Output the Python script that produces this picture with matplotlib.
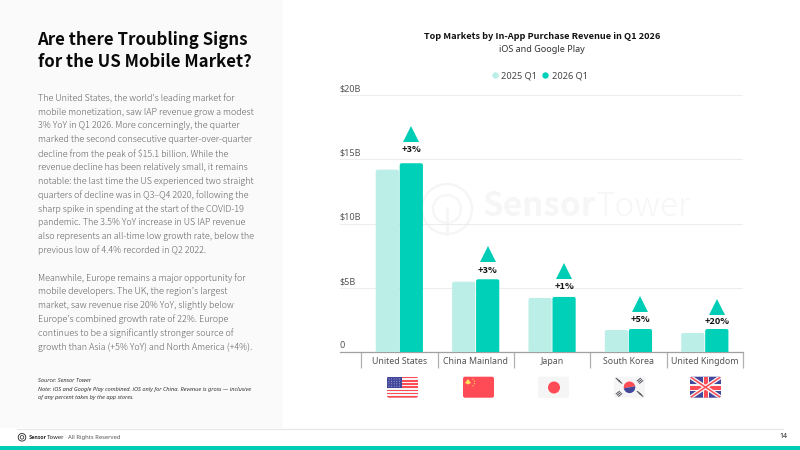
import matplotlib
matplotlib.use("Agg")
import matplotlib.pyplot as plt
from matplotlib.lines import Line2D
from matplotlib.patches import Circle, FancyBboxPatch, Polygon, Rectangle, Wedge
from matplotlib.transforms import ScaledTranslation, offset_copy

# Revenue in $B per market
markets = ["United States", "China Mainland", "Japan", "South Korea", "United Kingdom"]
rev_2025 = [14.2, 5.46, 4.19, 1.69, 1.46]
rev_2026 = [14.7, 5.65, 4.27, 1.77, 1.77]
yoy_labels = ["+3%", "+3%", "+1%", "+5%", "+20%"]
y_ticks = [0, 5, 10, 15, 20]
y_tick_labels = ["0", "$5B", "$10B", "$15B", "$20B"]

title = ["Are there Troubling Signs", "for the US Mobile Market?"]
para_1 = [
    "The United States, the world\u2019s leading market for",
    "mobile monetization, saw IAP revenue grow a modest",
    "3% YoY in Q1 2026. More concerningly, the quarter",
    "marked the second consecutive quarter-over-quarter",
    "decline from the peak of $15.1 billion. While the",
    "revenue decline has been relatively small, it remains",
    "notable: the last time the US experienced two straight",
    "quarters of decline was in Q3\u2013Q4 2020, following the",
    "sharp spike in spending at the start of the COVID-19",
    "pandemic. The 3.5% YoY increase in US IAP revenue",
    "also represents an all-time low growth rate, below the",
    "previous low of 4.4% recorded in Q2 2022.",
]
para_2 = [
    "Meanwhile, Europe remains a major opportunity for",
    "mobile developers. The UK, the region\u2019s largest",
    "market, saw revenue rise 20% YoY, slightly below",
    "Europe\u2019s combined growth rate of 22%. Europe",
    "continues to be a significantly stronger source of",
    "growth than Asia (+5% YoY) and North America (+4%).",
]
notes = [
    "Source: Sensor Tower",
    "Note: iOS and Google Play combined. iOS only for China. Revenue is gross \u2014 inclusive",
    "of any percent takes by the app stores.",
]

TEAL = "#00D0B8"
PALE = "#BBEEE6"
RED = "#FF4B55"
BLUE = "#41479B"
BODY = "#606060"
FONT = "Noto Sans"
HEAVY = "Noto Sans CJK JP"

fig = plt.figure(figsize=(8, 4.5), dpi=100)

# Page furniture is laid out in pixels on a full-size backdrop
page = fig.add_axes([0, 0, 1, 1], zorder=0)
page.set_xlim(0, 800)
page.set_ylim(450, 0)
page.axis("off")

page.add_patch(Rectangle((0, 0), 283, 428, fc="#FAFAFA", ec="none"))
page.add_patch(Rectangle((0, 446), 800, 4, fc="#00CDB6", ec="none"))
page.plot([17, 783], [428.5, 428.5], color="#E6E6E6", lw=0.8)

page.text(37.5, 40, title[0], family=HEAVY, weight="bold", fontsize=12.1, color="#0A0A0A", va="center")
page.text(37.5, 62, title[1], family=HEAVY, weight="bold", fontsize=12.1, color="#0A0A0A", va="center")

for i, line in enumerate(para_1):
    page.text(37.7, 98.3 + i * 13.8, line, family=HEAVY, weight="light", fontsize=6.45, color=BODY, va="center")
for i, line in enumerate(para_2):
    page.text(37.7, 277.7 + i * 13.85, line, family=HEAVY, weight="light", fontsize=6.45, color=BODY, va="center")
for y, line in zip([381, 389.3, 397], notes):
    page.text(37.7, y, line, family=FONT, style="italic", fontsize=4.05, color="#333333", va="center")

# footer
page.add_patch(Circle((22, 437.3), 3.8, fc="none", ec="#222222", lw=0.6))
page.add_patch(Circle((22, 437.3), 1.8, fc="none", ec="#222222", lw=0.5))
page.text(28.5, 437.3, "Sensor", family=HEAVY, weight="bold", fontsize=3.8, color="#222222", va="center")
page.text(46.6, 437.3, "Tower", family=HEAVY, fontsize=4.3, color="#222222", va="center")
page.text(67.5, 437.3, "All Rights Reserved", family=FONT, fontsize=4.2, color="#555555", va="center")
page.text(787, 437, "14", family=FONT, weight="bold", fontsize=5, color="#222222", va="center", ha="right")

# watermark behind the chart
page.add_patch(Circle((447, 209), 25, fc="none", ec="#F5F5F5", lw=1.6))
page.add_patch(Circle((447, 209), 14, fc="none", ec="#F6F6F6", lw=1.6))
page.plot([447, 447], [208, 235], color="#F5F5F5", lw=1.8)
page.text(483, 207, "Sensor", family=HEAVY, weight="bold", fontsize=24, color="#F6F6F6", va="center")
page.text(596, 207, "Tower", family=HEAVY, weight="light", fontsize=24, color="#F6F6F6", va="center")

page.text(541.7, 36.3, "Top Markets by In-App Purchase Revenue in Q1 2026", family=HEAVY, weight="bold",
          fontsize=6.62, color="#111111", ha="center", va="center")
page.text(541.7, 49.3, "iOS and Google Play", family=FONT, fontsize=6.5, color="#333333", ha="center", va="center")


def flag_base(x0, color):
    base = FancyBboxPatch((x0 + 1.5, 378.2), 28, 18, boxstyle="round,pad=1.5,rounding_size=2", fc=color, ec="none")
    page.add_patch(base)
    return base


def clipped(artist, base):
    page.add_artist(artist)
    artist.set_clip_path(base)


# United States
base = flag_base(387, "#F5F5F5")
for i in range(0, 13, 2):
    clipped(Rectangle((387, 376.7 + i * 21 / 13), 31, 21 / 13, fc=RED, ec="none"), base)
clipped(Rectangle((387, 376.7), 14.5, 11.3, fc=BLUE, ec="none"), base)
for row in range(4):
    for col in range(5):
        page.add_patch(Circle((389 + col * 2.6, 379 + row * 2.4), 0.45, fc="#C8CBEA", ec="none"))

# China
base = flag_base(463, RED)
page.add_patch(Polygon([(465, 383), (468, 379), (471, 383), (468, 384.5)], fc="#FFE15A", ec="none"))
for dx, dy in [(10, 2.5), (11.5, 4.5), (11.5, 7), (10, 9)]:
    page.add_patch(Circle((463 + dx, 376.7 + dy), 0.6, fc="#FFE15A", ec="none"))

# Japan
base = flag_base(538, "#F5F5F5")
page.add_patch(Circle((554, 387.5), 6, fc=RED, ec="none"))

# South Korea
base = flag_base(614, "#F5F5F5")
page.add_patch(Wedge((629.5, 387.3), 5.8, 170, 350, fc=RED, ec="none"))
page.add_patch(Wedge((629.5, 387.3), 5.8, -10, 170, fc=BLUE, ec="none"))
for sx, sy in [(-1, -1), (1, -1), (-1, 1), (1, 1)]:
    cx, cy = 629.5 + sx * 10.5, 387.3 + sy * 6.5
    for k in (-1.2, 0, 1.2):
        page.plot([cx - 2 * sx + k, cx + 2 * sx + k], [cy + 1.6 * sy * -1 + k, cy - 1.6 * sy * -1 + k],
                  color="#555560", lw=0.7, solid_capstyle="butt")

# United Kingdom
base = flag_base(690, BLUE)
xa, xb, ya, yb = 690, 721, 376.7, 397.7
for color, lw in [("#F5F5F5", 3.0), (RED, 1.1)]:
    for pts in [([xa, xb], [ya, yb]), ([xa, xb], [yb, ya])]:
        line = Line2D(pts[0], pts[1], color=color, lw=lw, solid_capstyle="butt")
        clipped(line, base)
clipped(Rectangle((xa, 384), 31, 7, fc="#F5F5F5", ec="none"), base)
clipped(Rectangle((702.5, ya), 6, 21, fc="#F5F5F5", ec="none"), base)
clipped(Rectangle((xa, 385.5), 31, 4, fc=RED, ec="none"), base)
clipped(Rectangle((703.5, ya), 4, 21, fc=RED, ec="none"), base)

# The chart itself: x runs from 340 to 743 px, y from 351.7 up to 95.3 px
ax = fig.add_axes([340 / 800, 1 - 351.7 / 450, 403 / 800, 256.4 / 450], zorder=2)
ax.patch.set_alpha(0)
ax.set_xlim(-0.777, 4.5)
ax.set_ylim(0, 20)
for side in ["top", "right", "left"]:
    ax.spines[side].set_visible(False)
ax.spines["bottom"].set_color("#A0A0A0")
ax.spines["bottom"].set_linewidth(0.9)

ax.set_yticks(y_ticks)
ax.set_yticklabels(y_tick_labels)
ax.tick_params(axis="y", length=0, pad=0, labelsize=6.5, labelcolor="#555555")
ax.yaxis.grid(True, color="#EDEDED", lw=0.8)
ax.set_axisbelow(True)
label_shift = ScaledTranslation(0, 1.1 / 72, fig.dpi_scale_trans)
for lab in ax.get_yticklabels():
    lab.set_ha("left")
    lab.set_va("bottom")
    lab.set_family(FONT)
    lab.set_transform(lab.get_transform() + label_shift)

ax.set_xticks(range(len(markets)))
ax.set_xticklabels(markets, family=FONT, fontsize=6.35, color="#555555")
ax.set_xticks([i - 0.5 for i in range(len(markets) + 1)], minor=True)
ax.tick_params(axis="x", which="major", length=0, pad=3.6)
ax.tick_params(axis="x", which="minor", length=11.2, width=0.9, color="#B0B0B0")

bar_w = 0.304
bar_off = 0.157
# rounding radius of 2 px, with the aspect correcting for the differing axis scales
radius = 2 / 76.3
aspect = (1 / 12.82) / (1 / 76.3)


def rounded_bar(x, value, color):
    patch = FancyBboxPatch((x - bar_w / 2 + radius, -1), bar_w - 2 * radius, value + 1 - radius * aspect,
                           boxstyle=f"round,pad={radius},rounding_size={radius}", mutation_aspect=aspect,
                           fc=color, ec="none", zorder=3)
    ax.add_patch(patch)


for i in range(len(markets)):
    rounded_bar(i - bar_off, rev_2025[i], PALE)
    rounded_bar(i + bar_off, rev_2026[i], TEAL)

# Gap in px between the bar top and the label centre / arrow centre
label_gaps = [14, 9, 10, 10, 8]
arrow_gaps = [29.5, 25.5, 25.5, 25.5, 22.5]
for i, lab in enumerate(yoy_labels):
    ax.annotate(lab, (i + bar_off, rev_2026[i]), xytext=(0, label_gaps[i] * 0.72), textcoords="offset points",
                ha="center", va="center", family=HEAVY, weight="bold", fontsize=6.6, color="#111111", zorder=5)
    tr = offset_copy(ax.transData, fig=fig, x=0, y=arrow_gaps[i] * 0.72, units="points")
    ax.plot([i + bar_off], [rev_2026[i]], marker="^", ms=11.5, color="#00CDB6", mew=0, transform=tr,
            clip_on=False, zorder=4)

handles = [
    Line2D([], [], ls="", marker="o", ms=4.6, mew=0, color=PALE, label="2025 Q1"),
    Line2D([], [], ls="", marker="o", ms=4.6, mew=0, color=TEAL, label="2026 Q1"),
]
ax.legend(handles=handles, ncol=2, frameon=False, loc="center", bbox_to_anchor=(539.5, 75.7),
          bbox_transform=page.transData, prop={"family": FONT, "size": 6.6}, labelcolor="#444444",
          handlelength=0.7, handletextpad=0.35, columnspacing=0.55, borderpad=0)

fig.savefig("out.png", dpi=100)
